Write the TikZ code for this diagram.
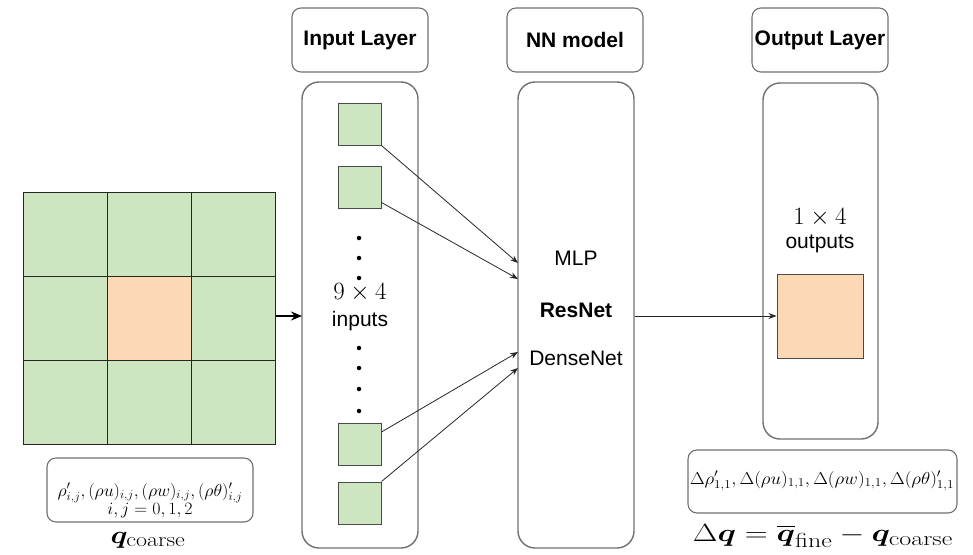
\documentclass[tikz,border=0pt]{standalone}
\usepackage{amsmath,bm}
\usepackage{fontspec}
\newfontfamily\hv{Liberation Sans}
\usetikzlibrary{arrows.meta}
\definecolor{gfill}{HTML}{CDE5C1}
\definecolor{ofill}{HTML}{FCD8B4}
\definecolor{boxline}{HTML}{707070}
\definecolor{sqline}{HTML}{4A4A4A}
\begin{document}
\begin{tikzpicture}[x=1pt,y=-1pt,
  hdr/.style={draw=boxline,line width=1.1pt,rounded corners=9pt,minimum width=136pt,minimum height=64pt,inner sep=0pt,font=\hv\bfseries\fontsize{21}{24}\selectfont},
  body/.style={draw=boxline,line width=1.4pt,rounded corners=17pt,inner sep=0pt},
  cell/.style={minimum size=84pt,inner sep=0pt,fill=gfill},
  cellline/.style={draw=black!85,line width=1.3pt},
  insq/.style={draw=sqline,line width=1pt,fill=gfill,minimum width=43pt,minimum height=42pt,inner sep=0pt},
  lbl/.style={font=\hv\fontsize{21}{24}\selectfont,inner sep=0pt},
  fbox/.style={draw=boxline,line width=1.1pt,rounded corners=9pt,inner sep=0pt},
  arr/.style={-{Stealth[length=8pt,width=6pt]},line width=0.8pt,black!85},
  dot/.style={circle,fill=black,inner sep=0pt,minimum size=4.5pt}
]
\useasboundingbox (0,0) rectangle (973,554);
% grid
\node[cell] (c11) at (65.5,234.5) {};
\node[cell] (c12) at (149.5,234.5) {};
\node[cell] (c13) at (233.5,234.5) {};
\node[cell] (c21) at (65.5,318.5) {};
\node[cell,fill=ofill] (c22) at (149.5,318.5) {};
\node[cell] (c23) at (233.5,318.5) {};
\node[cell] (c31) at (65.5,402.5) {};
\node[cell] (c32) at (149.5,402.5) {};
\node[cell] (c33) at (233.5,402.5) {};
\foreach \c in {c11,c12,c13,c21,c22,c23,c31,c32,c33}
  \draw[cellline] (\c.south west) rectangle (\c.north east);
% left formula box
\node[fbox,minimum width=206pt,minimum height=64pt] (lf) at (150,490) {};
\node[inner sep=0pt] (lft) at (150,501) {\resizebox{195pt}{\height}{\fontsize{17.5}{19}\selectfont$\renewcommand{\arraystretch}{0.85}\begin{array}{c}\rho'_{i,j},(\rho u)_{i,j},(\rho w)_{i,j},(\rho\theta)'_{i,j}\\ i,j=0,1,2\end{array}$}};
\node[inner sep=0pt] (qc) at (148,540) {\resizebox{75pt}{\height}{\fontsize{29}{33}\selectfont$\bm{q}_{\text{coarse}}$}};
% headers
\node[hdr] (ih) at (360,40) {Input Layer};
\node[hdr] (nh) at (575,40) {NN model};
\node[hdr] (oh) at (820,40) {Output Layer};
% bodies
\node[body,minimum width=116pt,minimum height=466pt] (ib) at (360,315) {};
\node[body,minimum width=116pt,minimum height=466pt] (nb) at (576,315) {};
\node[body,minimum width=115pt,minimum height=356pt] (ob) at (820.5,261) {};
% input squares
\node[insq] (s1) at (359.5,124) {};
\node[insq] (s2) at (359.5,187) {};
\node[insq] (s3) at (359.5,444.5) {};
\node[insq] (s4) at (359.5,503) {};
\node[dot] (d1) at (359,238) {};
\node[dot] (d2) at (359,258) {};
\node[dot] (d3) at (359,278) {};
\node[dot] (d4) at (359,348) {};
\node[dot] (d5) at (359,368) {};
\node[dot] (d6) at (359,389) {};
\node[dot] (d7) at (359,411) {};
\node[inner sep=0pt] (n94) at (360,293) {\fontsize{25}{28}\selectfont$9\times 4$};
\node[lbl] (inp) at (360,321) {inputs};
% NN text
\node[lbl] (mlp) at (576,258) {MLP};
\node[lbl,font=\hv\bfseries\fontsize{21}{24}\selectfont] (res) at (576,310) {ResNet};
\node[lbl] (dn) at (576,358) {DenseNet};
% output
\node[inner sep=0pt] (n14) at (820,218) {\fontsize{25}{28}\selectfont$1\times 4$};
\node[lbl] (outs) at (820,244) {outputs};
\node[draw=sqline,line width=1pt,fill=ofill,minimum width=86pt,minimum height=84pt,inner sep=0pt] (os) at (820,316) {};
% right formula box
\node[fbox,minimum width=269pt,minimum height=63pt] (rf) at (822.5,481.5) {};
\node[inner sep=0pt] (rft) at (822,481) {\resizebox{264pt}{\height}{\fontsize{16.5}{19}\selectfont$\Delta\rho'_{1,1},\Delta(\rho u)_{1,1},\Delta(\rho w)_{1,1},\Delta(\rho\theta)'_{1,1}$}};
\node[inner sep=0pt] (dq) at (823,536) {\resizebox{260pt}{\height}{\fontsize{29}{33}\selectfont$\Delta\bm{q}=\overline{\bm{q}}_{\text{fine}}-\bm{q}_{\text{coarse}}$}};
% connectors
\coordinate (e1) at (518,263);
\coordinate (e2) at (518,279);
\coordinate (e3) at (518,352);
\coordinate (e4) at (518,368);
\coordinate (gi) at (302,316);
\draw[arr] (s1.south east) -- (e1);
\draw[arr] ([yshift=6pt]s2.south east) -- (e2);
\draw[arr] ([yshift=-9pt]s3.north east) -- (e3);
\draw[arr] (s4.north east) -- (e4);
\draw[-{Stealth[length=11pt,width=9pt]},line width=1.8pt,black] ([yshift=2.5pt]c23.east) -- (gi);
\draw[arr] (nb.east |- os.west) -- (os.west);
\end{tikzpicture}
\end{document}
